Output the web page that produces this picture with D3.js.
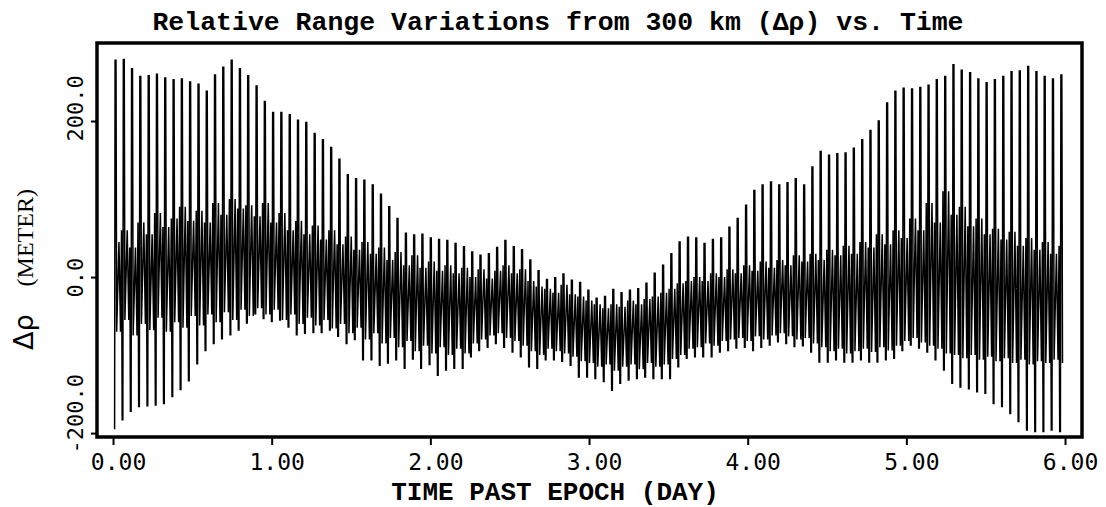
<!DOCTYPE html>
<html><head><meta charset="utf-8">
<script src="https://cdn.jsdelivr.net/npm/d3@7"></script>
<style>html,body{margin:0;padding:0;background:#fff;}svg{display:block;}</style>
</head><body>
<svg id="chart" width="1106" height="507"></svg>
<script>
// ---- data ----
const spikeDays = [0.013,0.065,0.117,0.169,0.222,0.274,0.326,0.379,0.431,0.483,
0.536,0.588,0.640,0.692,0.745,0.797,0.849,0.902,0.954,1.006,
1.058,1.111,1.163,1.215,1.268,1.320,1.372,1.424,1.477,1.529,
1.581,1.634,1.686,1.738,1.790,1.843,1.895,1.947,2.000,2.052,
2.104,2.156,2.209,2.261,2.313,2.366,2.418,2.470,2.523,2.575,
2.627,2.679,2.732,2.784,2.836,2.889,2.941,2.993,3.045,3.098,
3.150,3.202,3.255,3.307,3.359,3.411,3.464,3.516,3.568,3.621,
3.673,3.725,3.778,3.830,3.882,3.934,3.987,4.039,4.091,4.144,
4.196,4.248,4.300,4.353,4.405,4.457,4.510,4.562,4.614,4.666,
4.719,4.771,4.823,4.876,4.928,4.980,5.033,5.085,5.137,5.189,
5.242,5.294,5.346,5.399,5.451,5.503,5.555,5.608,5.660,5.712,
5.765,5.817,5.869,5.921,5.974];
const peaks = [278,279,267,257,258,260,255,253,254,250,
247,238,259,269,278,267,258,245,225,211,
211,208,201,198,184,176,166,151,131,126,
124,118,106,90,75,56,54,55,50,48,
47,43,39,32,28,30,38,47,39,35,
22,8,-3,-1,4,-4,-7,-17,-27,-25,
-16,-20,-17,-15,-8,5,15,30,45,51,
50,43,48,50,64,75,92,111,118,122,
118,121,126,118,141,161,156,158,159,165,
176,188,200,223,238,242,241,243,246,253,
257,272,265,262,254,249,253,257,263,264,
270,263,257,254,259];
const troughs = [-194,-183,-172,-166,-165,-164,-162,-153,-144,-133,
-111,-94,-85,-79,-74,-68,-59,-47,-53,-57,
-55,-64,-74,-72,-71,-71,-68,-76,-85,-80,
-106,-106,-113,-110,-106,-117,-105,-117,-112,-126,
-119,-117,-117,-102,-94,-90,-85,-90,-96,-102,
-115,-117,-106,-106,-108,-113,-128,-128,-130,-134,
-145,-136,-132,-130,-128,-130,-130,-130,-115,-104,
-102,-102,-102,-96,-94,-91,-90,-94,-90,-87,
-83,-85,-89,-88,-96,-109,-109,-106,-109,-109,
-106,-109,-109,-106,-104,-94,-87,-91,-96,-106,
-119,-136,-141,-143,-147,-149,-162,-166,-175,-185,
-196,-198,-198,-196,-198];
const bandHigh = [45,60,38,70,55,82,64,75,90,72,
85,70,95,80,100,88,92,78,95,70,
82,60,72,55,66,48,60,42,52,35,
45,30,38,22,32,15,28,12,20,8,
15,5,12,0,10,-2,8,15,5,10,
-5,-12,-15,-20,-10,-22,-25,-30,-35,-40,
-35,-38,-30,-35,-28,-25,-20,-15,-8,-5,
0,-5,5,0,10,5,15,8,20,12,
22,15,28,20,30,22,35,28,40,30,
45,38,55,42,60,50,75,60,95,70,
110,80,90,65,75,55,62,48,58,40,
50,35,45,30,40];
const bandLow = [-70,-55,-75,-60,-68,-52,-70,-58,-65,-50,
-62,-48,-58,-45,-55,-42,-50,-40,-48,-42,
-55,-48,-60,-52,-62,-55,-66,-60,-72,-65,
-80,-72,-85,-78,-90,-82,-95,-88,-98,-90,
-100,-92,-98,-85,-80,-75,-72,-78,-82,-88,
-95,-100,-92,-95,-98,-102,-108,-110,-115,-112,
-120,-115,-112,-118,-110,-115,-112,-105,-100,-92,
-90,-85,-88,-82,-80,-78,-82,-76,-80,-75,
-72,-76,-80,-78,-85,-90,-95,-92,-98,-95,
-92,-96,-90,-94,-88,-82,-78,-84,-88,-92,
-98,-100,-104,-100,-106,-102,-108,-104,-110,-106,
-112,-108,-110,-106,-110];
const xTicks = [0,1,2,3,4,5,6];
const xTickLabels = ["0.00","1.00","2.00","3.00","4.00","5.00","6.00"];
const yTicks = [-200,0,200];
const yTickLabels = ["-200.0","0.0","200.0"];
const titleText = "Relative Range Variations from 300 km (\u0394\u03c1) vs. Time";
const xTitle = "TIME PAST EPOCH (DAY)";

// ---- layout ----
const L = 97, R = 1082, T = 43, B = 437;
const svg = d3.select("#chart");
const x = d3.scaleLinear().domain([-0.101, 6.107]).range([L, R]);
const y = d3.scaleLinear().domain([-205, 300]).range([B, T]);

svg.append("defs").append("clipPath").attr("id","plotclip")
  .append("rect").attr("x",L).attr("y",T).attr("width",R-L).attr("height",B-T);

// build the trace: each orbit = sharp spike trough->peak plus wiggles inside the band
const n = spikeDays.length;
const pts = [];
spikeDays.forEach((t,i)=>{
  const s = i < n-1 ? spikeDays[i+1]-t : t-spikeDays[i-1];
  if (i>0) pts.push([t-0.22*s, bandHigh[i]]);
  pts.push([t-0.14*s, troughs[i]]);
  pts.push([t-0.06*s, troughs[i]]);
  pts.push([t+0.00*s, peaks[i]]);
  pts.push([t+0.11*s, peaks[i]]);
  pts.push([t+0.19*s, bandLow[i]]);
  if (i<n-1){
    pts.push([t+0.47*s, bandHigh[i]]);
    pts.push([t+0.66*s, bandLow[i]]);
  }
});
const line = d3.line().x(d=>x(d[0])).y(d=>y(d[1]));
svg.append("path").attr("clip-path","url(#plotclip)")
  .attr("d", line(pts)).attr("fill","none").attr("stroke","#000")
  .attr("stroke-width",1.5).attr("stroke-linejoin","miter").attr("stroke-miterlimit",2);

// frame
svg.append("rect").attr("x",L).attr("y",T).attr("width",R-L).attr("height",B-T)
  .attr("fill","none").attr("stroke","#000").attr("stroke-width",3.5);

// x axis
const xa = svg.append("g").attr("transform",`translate(0,${B})`)
  .call(d3.axisBottom(x).tickValues(xTicks).tickSize(8).tickFormat((d,i)=>xTickLabels[i]));
xa.select(".domain").remove();
xa.selectAll(".tick line").attr("stroke","#000").attr("stroke-width",2);
xa.selectAll(".tick text").attr("dx",5).attr("y",33).attr("dy",0)
  .attr("font-family","'DejaVu Sans Mono', monospace").attr("font-size",23).attr("fill","#000");

// y axis
const ya = svg.append("g").attr("transform",`translate(${L},0)`)
  .call(d3.axisLeft(y).tickValues(yTicks).tickSize(6).tickFormat((d,i)=>yTickLabels[i]));
ya.select(".domain").remove();
ya.selectAll(".tick line").attr("stroke","#000").attr("stroke-width",2);
ya.selectAll(".tick text").attr("transform","rotate(-90)").attr("x",-20).attr("y",-14).attr("dy",0)
  .attr("text-anchor","start")
  .attr("font-family","'DejaVu Sans Mono', monospace").attr("font-size",22).attr("fill","#000");

// titles
svg.append("text").attr("x",558).attr("y",30).attr("text-anchor","middle")
  .attr("font-family","'Liberation Mono', monospace").attr("font-weight","bold")
  .attr("font-size",26.5).text(titleText);
svg.append("text").attr("x",555).attr("y",500).attr("text-anchor","middle")
  .attr("font-family","'Liberation Mono', monospace").attr("font-weight","bold")
  .attr("font-size",26).text(xTitle);
const yl = svg.append("text").attr("transform","translate(33,350) rotate(-90)").attr("text-anchor","start");
yl.append("tspan").attr("font-family","'DejaVu Sans', sans-serif").attr("font-size",27).text("\u0394\u03c1");
yl.append("tspan").attr("dx",28).attr("font-family","'Liberation Serif', serif").attr("font-size",24).text("(METER)");
</script>
</body></html>
